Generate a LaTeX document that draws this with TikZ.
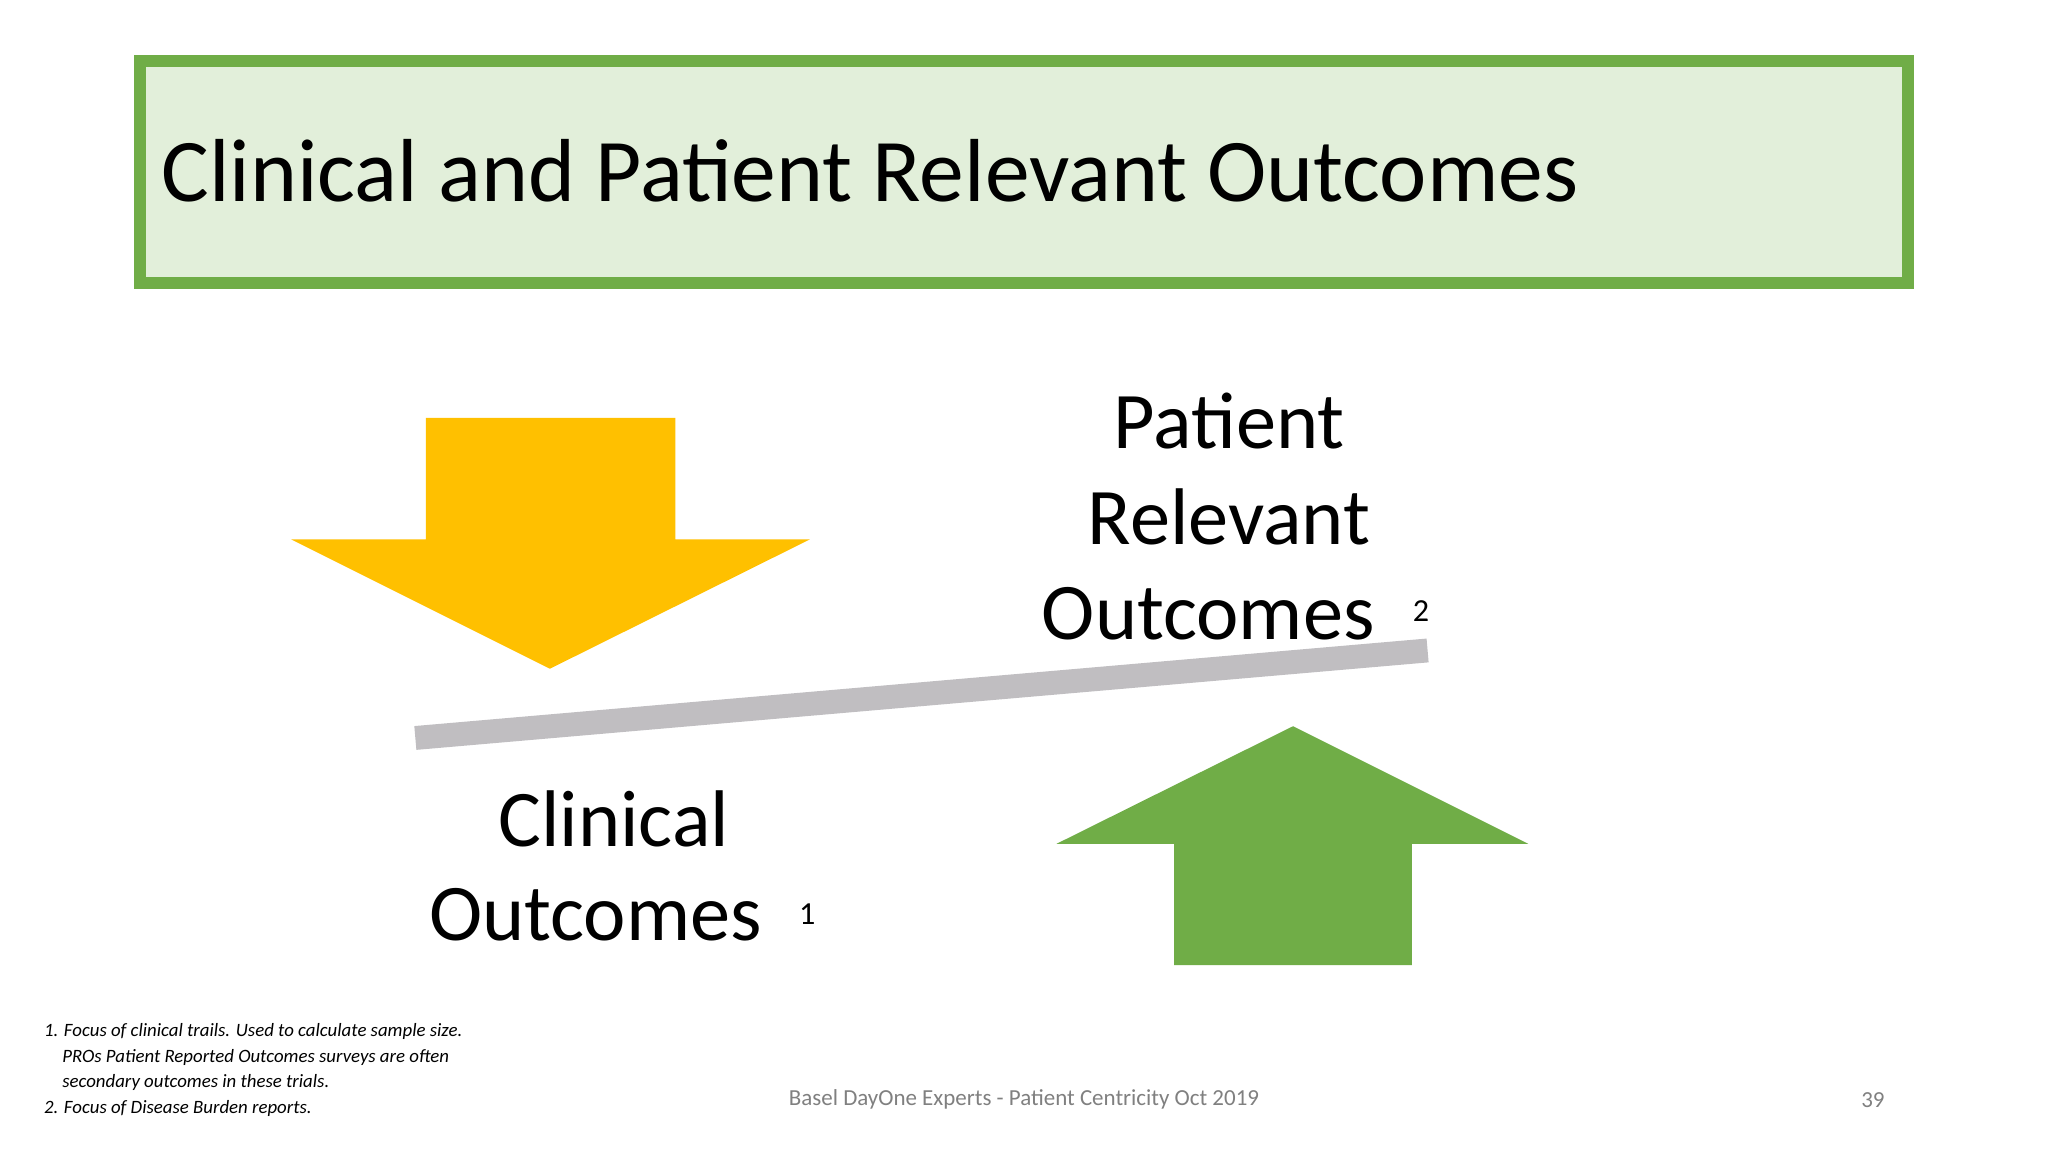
\documentclass[tikz,border=0pt]{standalone}
\usepackage{fontspec}
\setmainfont{Carlito}
\definecolor{tgreen}{HTML}{70AD47}
\definecolor{tfill}{HTML}{E2EFDA}
\definecolor{tyel}{HTML}{FFC000}
\definecolor{tgray}{HTML}{C0BEC1}
\definecolor{ftgray}{HTML}{808080}
\begin{document}
\begin{tikzpicture}[x=0.1mm,y=-0.1mm,
  big/.style={font=\fontsize{17.5pt}{21pt}\selectfont, inner sep=0pt},
  note/.style={font=\fontsize{4.1pt}{5.5pt}\selectfont\itshape, inner sep=0pt, anchor=west}]
\useasboundingbox[fill=white] (0,0) rectangle (1568,882);
\draw[tgreen, line width=2.6pt, fill=tfill] (107,47) rectangle (1461,217);
\node[anchor=west, inner sep=0pt, font=\fontsize{19.5pt}{23pt}\selectfont] (title) at (123,131) {Clinical and Patient Relevant Outcomes};
\fill[tyel] (326,320) -- (517,320) -- (517,413) -- (620,413) -- (421,512) -- (223,413) -- (326,413) -- cycle;
\fill[tgreen] (899,739) -- (1081,739) -- (1081,646) -- (1170,646) -- (990,556) -- (809,646) -- (899,646) -- cycle;
\coordinate (b1) at (318,565); \coordinate (b2) at (1093,498);
\draw[tgray, line width=5.2pt] (b1) -- (b2);
\node[big] (p1) at (941,322) {Patient};
\node[big] (p2) at (941,396) {Relevant};
\node[big] (p3) at (925,470) {Outcomes};
\node[inner sep=0pt, font=\fontsize{7pt}{8pt}\selectfont] (s2) at (1088,468) {2};
\node[big] (c1) at (470,627) {Clinical};
\node[big] (c2) at (456,700) {Outcomes};
\node[inner sep=0pt, font=\fontsize{7pt}{8pt}\selectfont] (s1) at (618,700) {1};
\node[note] (n1) at (33,790) {1. Focus of clinical trails. Used to calculate sample size.};
\node[note] (n2) at (47,810) {PROs Patient Reported Outcomes surveys are often};
\node[note] (n3) at (47,829) {secondary outcomes in these trials.};
\node[note] (n4) at (33,849) {2. Focus of Disease Burden reports.};
\node[inner sep=0pt, text=ftgray, font=\fontsize{5pt}{6pt}\selectfont] (ft) at (784,842) {Basel DayOne Experts - Patient Centricity Oct 2019};
\node[inner sep=0pt, text=ftgray, font=\fontsize{5pt}{6pt}\selectfont] (pg) at (1434,842) {39};
\end{tikzpicture}
\end{document}
